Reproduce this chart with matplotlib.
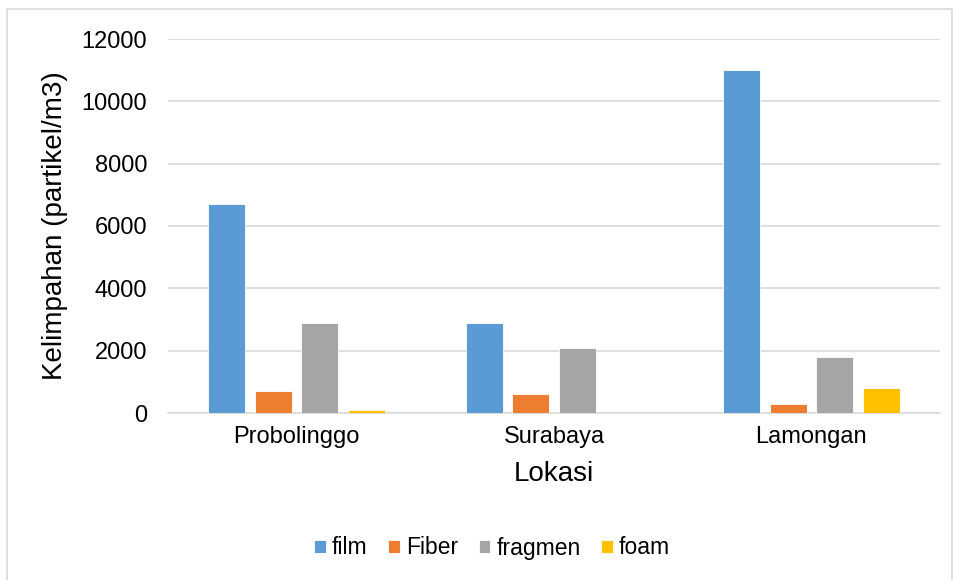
import numpy as np
import matplotlib.pyplot as plt
from matplotlib.patches import Rectangle

plt.rcParams['font.family'] = ['Liberation Sans', 'DejaVu Sans']

lokasi = ['Probolinggo', 'Surabaya', 'Lamongan']
jenis = ['film', 'Fiber', 'fragmen', 'foam']
film = [6700, 2900, 11000]
fiber = [700, 600, 300]
fragmen = [2900, 2100, 1800]
foam = [100, 0, 800]
warna = ['#5B9BD5', '#ED7D31', '#A5A5A5', '#FFC000']

fig = plt.figure(figsize=(9.55, 5.8), dpi=100)
# frame around the chart area
fig.patches.append(Rectangle((7 / 955, -0.01), 945 / 955, 1 - 9 / 580 + 0.01,
                             transform=fig.transFigure, fill=False,
                             edgecolor='#D9D9D9', linewidth=1.2))
ax = fig.add_axes([168 / 955, 1 - 413 / 580, 772 / 955, 374 / 580])

x = np.arange(len(lokasi))
w = 0.144
step = 0.181
for i, (vals, nama) in enumerate(zip([film, fiber, fragmen, foam], jenis)):
    ax.bar(x + (i - 1.5) * step, vals, width=w, color=warna[i], label=nama,
           edgecolor='white', linewidth=0.6, zorder=3)

ax.set_xlim(-0.5, 2.5)
ax.set_ylim(0, 12000)
ax.set_yticks(np.arange(0, 12001, 2000))
ax.set_xticks(x)
ax.set_xticklabels(lokasi)
ax.yaxis.grid(True, color='#D9D9D9', linewidth=1.2, zorder=0)
for s in ['top', 'right', 'left']:
    ax.spines[s].set_visible(False)
ax.spines['bottom'].set_color('#D9D9D9')
ax.spines['bottom'].set_linewidth(1.2)
ax.tick_params(axis='both', length=0, labelsize=17, colors='black')
ax.tick_params(axis='y', pad=15)
ax.tick_params(axis='x', pad=9)
ax.set_xlabel('Lokasi', fontsize=20, labelpad=10)
ax.set_ylabel('Kelimpahan (partikel/m3)', fontsize=20, labelpad=10)

ax.legend(loc='center', bbox_to_anchor=(492 / 955, 1 - 548 / 580),
          bbox_transform=fig.transFigure, ncol=4, frameon=False, fontsize=16.5,
          handlelength=0.52, handleheight=0.52, handletextpad=0.25,
          columnspacing=0.9)

fig.savefig('out.png', dpi=100)
